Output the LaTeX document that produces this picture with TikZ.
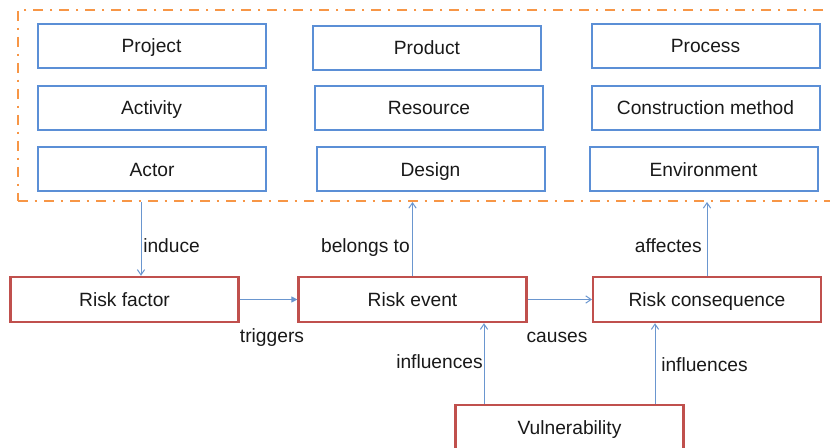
\documentclass[tikz,border=0pt]{standalone}
\usepackage{fontspec}
\setmainfont{Liberation Sans}
\usetikzlibrary{arrows.meta}
\definecolor{boxblue}{HTML}{5B8FD6}
\definecolor{boxred}{HTML}{C0504D}
\definecolor{frameorange}{HTML}{F79646}
\definecolor{linkblue}{HTML}{6A96CF}
\tikzset{
  every node/.style={font=\fontsize{14.4}{17}\selectfont, text=black!90, text height=10.3pt, text depth=0pt},
  bluebox/.style={draw=boxblue, line width=1.5pt, minimum width=171pt, minimum height=33pt, inner sep=0pt},
  redbox/.style={draw=boxred, line width=1.6pt, minimum width=171pt, minimum height=34pt, inner sep=0pt},
  groupframe/.style={draw=frameorange, line width=1.5pt, dash pattern=on 7.5pt off 5pt on 2pt off 5pt, minimum width=610.5pt, minimum height=143.25pt, inner sep=0pt},
  link/.style={draw=linkblue, line width=0.75pt, -{Straight Barb[length=4pt,width=5.5pt]}},
  solidlink/.style={draw=linkblue, line width=0.75pt, -{Triangle[length=4.5pt,width=4.5pt]}},
  lbl/.style={inner sep=0pt}
}
\begin{document}
\begin{tikzpicture}[x=0.75pt, y=-0.75pt]
\useasboundingbox (0,0) rectangle (830,448);

% grouping frame around the risk-related concepts
\node[groupframe, text height=0pt] (grp) at (425,105.5) {};

% concept boxes
\node[bluebox] (project)  at (151.5,46)  {Project};
\node[bluebox] (product)  at (427,48)    {Product};
\node[bluebox] (process)  at (705.5,46)  {Process};
\node[bluebox] (activity) at (151.5,108) {Activity};
\node[bluebox] (resource) at (429,108)   {Resource};
\node[bluebox] (method)   at (705.5,108) {Construction method};
\node[bluebox] (actor)    at (152,169.5) {Actor};
\node[bluebox] (design)   at (430.5,169.5) {Design};
\node[bluebox] (env)      at (703.5,169.5) {Environment};

% risk chain
\node[redbox] (factor)  at (124.5,299.5) {Risk factor};
\node[redbox] (event)   at (412.5,299.5) {Risk event};
\node[redbox] (conseq)  at (707,299.5)   {Risk consequence};
% the last box runs past the lower edge of the page
\node[redbox, anchor=base, inner ysep=12.1pt, text depth=20pt] (vuln) at (569.5,434.9) {Vulnerability};

% connectors
\draw[link] (grp.south -| 141,0) -- (factor.north -| 141,0);
\draw[link] (event.north) -- (grp.south -| event.north);
\draw[link] (conseq.north) -- (grp.south -| conseq.north);
\draw[solidlink] (factor.east) -- (event.west);
\draw[link] (event.east) -- (conseq.west);
\draw[link] (vuln.north -| 484,0) -- (event.south -| 484,0);
\draw[link] (vuln.north -| 655,0) -- (conseq.south -| 655,0);

% connector labels
\node[lbl, anchor=west] (l-induce)  at (143,246) {induce};
\node[lbl, anchor=east] (l-belongs) at (410,246) {belongs to};
\node[lbl, anchor=east] (l-affect)  at (702,246) {affectes};
\node[lbl] (l-trig)   at (272,336) {triggers};
\node[lbl] (l-cause)  at (557,336) {causes};
\node[lbl, anchor=east] (l-infl1) at (483,362) {influences};
\node[lbl, anchor=west] (l-infl2) at (661,365) {influences};
\end{tikzpicture}
\end{document}
